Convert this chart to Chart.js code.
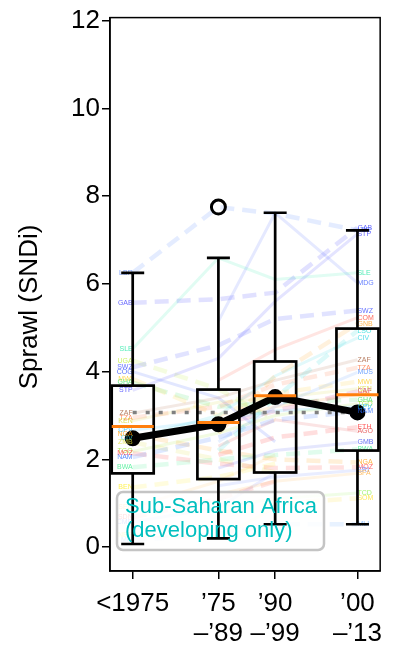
<!DOCTYPE html>
<html><head><meta charset="utf-8">
<script src="https://cdn.jsdelivr.net/npm/chart.js@4"></script>
<style>html,body{margin:0;padding:0;background:#fff}</style>
</head><body>
<canvas id="c" width="393" height="650"></canvas>
<script>
// ---------- data ----------
const periodLabels = [["<1975"], ["\u201975", "\u2013\u201989"], ["\u201990", "\u2013\u201999"], ["\u201900", "\u2013\u201913"]];
const periodPos = [0.4, 1.91, 2.91, 4.36];
const yTicks = [0, 2, 4, 6, 8, 10, 12];
const yTitle = "Sprawl (SNDi)";
const legendLines = ["Sub-Saharan Africa", "(developing only)"];

const boxQ1 = [1.68, 1.55, 1.70, 2.20];
const boxMedian = [2.75, 2.84, 3.45, 3.47];
const boxQ3 = [3.68, 3.59, 4.23, 4.98];
const whiskerLow = [0.07, 0.20, 0.52, 0.52];
const whiskerHigh = [6.25, 6.59, 7.62, 7.22];
const outlierPeriod = [1];
const outlierValue = [7.75];
const periodMeans = [2.48, 2.80, 3.42, 3.07];
const overallMean = 3.07;

const countryCodes = ["LBR","GAB","STP","SLE","MDG","SWZ","COM","GNB","LSO","CIV",
  "ZAF","TZA","MUS","MWI","KEN","CAF","GIN","GHA","TGO","CPV",
  "NAM","ETH","AGO","GMB","BWA","NGA","MOZ","ERI","BFA","TCD",
  "SOM","MLI","UGA","COG","ZMB","BEN","SEN","SDN","CMR","NER"];
const countryValues = [
  [6.25, 7.75, 7.60, 7.22], [5.57, 5.65, 5.80, 7.28], [3.57, 4.30, 5.60, 7.14], [4.52, 6.59, 6.10, 6.25],
  [null, 5.15, 7.62, 6.02], [4.10, 4.60, 5.20, 5.39], [null, 3.80, 4.50, 5.23], [null, 2.60, 3.90, 5.09],
  [null, 2.20, 3.40, 4.93], [2.48, 3.00, 3.90, 4.77], [3.05, 3.40, 3.80, 4.27], [2.95, 3.20, 3.70, 4.09],
  [null, 2.40, 3.20, 3.98], [3.83, 3.00, 3.50, 3.77], [2.88, 3.30, 3.40, 3.61], [null, 2.80, 3.10, 3.55],
  [null, 2.90, 3.20, 3.48], [3.75, 3.20, 3.30, 3.36], [2.18, 2.60, 3.00, 3.27], [2.66, 2.90, 3.10, 3.20],
  [2.05, 2.50, 2.90, 3.09], [null, 2.10, 2.50, 2.73], [null, 2.30, 2.90, 2.64], [null, 1.80, 2.20, 2.39],
  [1.82, 2.00, 2.10, 2.23], [2.57, 2.20, 2.00, 1.93], [2.14, 1.90, 1.80, 1.82], [null, 1.40, 1.60, 1.75],
  [null, 1.20, 1.50, 1.68], [null, 0.90, 1.10, 1.23], [null, 0.80, 1.00, 1.11], [0.16, 0.30, 0.52, 0.52],
  [4.25, 3.60, 2.90, null], [4.00, 3.40, 2.40, null], [2.39, 2.00, 1.70, null], [1.36, 1.60, 1.90, null],
  [0.91, 1.50, 2.10, null], [0.68, 1.10, 1.50, null], [0.57, 0.90, 1.70, null], [0.27, 0.20, 0.90, null]
];
const countryDashed = [1,1,0,0,0,1,0,1,1,0, 0,1,0,1,0,1,0,1,0,0, 1,1,0,0,1,1,1,0,0,0, 1,1,1,0,1,1,0,1,0,0];
const countryColors = ["#4d7fff","#3333ff","#2b2bff","#19e6a0","#3355ff","#3344ff","#ff3322","#ff9f1a","#1ad9d9","#20d0e0",
  "#a0522d","#ff6a33","#4488ff","#ffcc22","#d4d422","#cc2277","#ff8a1a","#33dd55","#99dd22","#11bbff",
  "#2266ff","#ff2222","#e03030","#3344ee","#33ee88","#ff9900","#ff3333","#5577ff","#ffaa33","#88ee44",
  "#ffdd22","#66aaff","#bbee33","#2244ff","#dddd33","#ffee22","#ffbb44","#ff4444","#6677ff","#eeee44"];

// ---------- helpers ----------
function pts(vals) {
  const out = [];
  vals.forEach((v, i) => { if (v !== null) out.push({ x: periodPos[i], y: v }); });
  return out;
}
function rgba(hex, a) {
  const n = parseInt(hex.slice(1), 16);
  return `rgba(${(n >> 16) & 255},${(n >> 8) & 255},${n & 255},${a})`;
}
const FONT = "'Liberation Sans', Arial, sans-serif";

const datasets = [];
datasets.push({ // outlier
  data: outlierPeriod.map((p, i) => ({ x: periodPos[p], y: outlierValue[i] })),
  showLine: false, pointRadius: 7, pointBorderWidth: 3, pointBorderColor: "#000",
  pointBackgroundColor: "rgba(0,0,0,0)"
});
datasets.push({ // period means
  data: pts(periodMeans), borderColor: "#000", borderWidth: 7, pointRadius: 4.5,
  pointBackgroundColor: "#000", pointBorderColor: "#000", borderJoinStyle: "round", tension: 0
});
datasets.push({ // overall mean
  data: [{ x: periodPos[0], y: overallMean }, { x: periodPos[3], y: overallMean }],
  borderColor: "#808080", borderWidth: 3.5, borderDash: [4, 9], pointRadius: 0
});
countryCodes.forEach((code, k) => {
  const dashed = countryDashed[k] === 1;
  datasets.push({
    data: pts(countryValues[k]),
    borderColor: rgba(countryColors[k], dashed ? 0.15 : 0.13),
    borderWidth: dashed ? 4.5 : 3,
    borderDash: dashed ? [14, 8] : [],
    pointRadius: 0, tension: 0
  });
});

const overlay = {
  id: "overlay",
  afterDatasetsDraw(chart) {
    const { ctx, scales: { x, y }, chartArea: ca } = chart;
    ctx.save();
    // country labels
    ctx.font = "7px " + FONT;
    ctx.textBaseline = "middle";
    countryCodes.forEach((code, k) => {
      const v = countryValues[k];
      ctx.fillStyle = rgba(countryColors[k], 0.75);
      if (v[0] !== null) {
        ctx.textAlign = "right";
        ctx.fillText(code, x.getPixelForValue(periodPos[0]), y.getPixelForValue(v[0]));
      }
      if (v[3] !== null) {
        ctx.textAlign = "left";
        ctx.fillText(code, x.getPixelForValue(periodPos[3]), y.getPixelForValue(v[3]));
      }
    });
    // legend frame
    const lx = ca.left + 7, ly = ca.bottom - 79, lw = 207, lh = 58;
    ctx.beginPath();
    ctx.roundRect(lx, ly, lw, lh, 6);
    ctx.fillStyle = "rgba(255,255,255,0.8)";
    ctx.fill();
    ctx.lineWidth = 2.5;
    ctx.strokeStyle = "#c4c4c4";
    ctx.stroke();
    // boxes
    const hw = 21, cw = 11.5;
    ctx.lineCap = "butt";
    for (let i = 0; i < periodPos.length; i++) {
      const cx = x.getPixelForValue(periodPos[i]);
      const q1 = y.getPixelForValue(boxQ1[i]), q3 = y.getPixelForValue(boxQ3[i]);
      const lo = y.getPixelForValue(whiskerLow[i]), hi = y.getPixelForValue(whiskerHigh[i]);
      const md = y.getPixelForValue(boxMedian[i]);
      ctx.strokeStyle = "#000";
      ctx.lineWidth = 2.7;
      ctx.strokeRect(cx - hw, q3, 2 * hw, q1 - q3);
      ctx.beginPath();
      ctx.moveTo(cx, q3); ctx.lineTo(cx, hi);
      ctx.moveTo(cx, q1); ctx.lineTo(cx, lo);
      ctx.moveTo(cx - cw, hi); ctx.lineTo(cx + cw, hi);
      ctx.moveTo(cx - cw, lo); ctx.lineTo(cx + cw, lo);
      ctx.stroke();
      ctx.beginPath();
      ctx.strokeStyle = "#ff7f0e";
      ctx.lineWidth = 3;
      ctx.moveTo(cx - hw, md); ctx.lineTo(cx + hw, md);
      ctx.stroke();
    }
    // legend text
    ctx.fillStyle = "#00bfbf";
    ctx.font = "22px " + FONT;
    ctx.textAlign = "left";
    ctx.textBaseline = "alphabetic";
    ctx.fillText(legendLines[0], lx + 8, ly + 21);
    ctx.fillText(legendLines[1], lx + 8, ly + 45);
    // frame
    ctx.strokeStyle = "#000";
    ctx.lineWidth = 1.5;
    ctx.strokeRect(ca.left, ca.top, ca.right - ca.left, ca.bottom - ca.top);
    // y title
    ctx.save();
    ctx.translate(30, 307);
    ctx.rotate(-Math.PI / 2);
    ctx.fillStyle = "#000";
    ctx.font = "26px " + FONT;
    ctx.textAlign = "center";
    ctx.textBaseline = "middle";
    ctx.fillText(yTitle, 0, 0);
    ctx.restore();
    ctx.restore();
  }
};

new Chart(document.getElementById("c"), {
  type: "line",
  data: { datasets },
  plugins: [overlay],
  options: {
    responsive: false, animation: false, events: [],
    layout: { padding: { top: 16, right: 7, left: 0, bottom: 0 } },
    plugins: { legend: { display: false }, tooltip: { enabled: false } },
    scales: {
      x: {
        type: "linear", min: 0, max: 4.76,
        afterBuildTicks: s => { s.ticks = periodPos.map(v => ({ value: v })); },
        afterFit: s => { s.height = 79; },
        ticks: {
          callback: (v, i) => periodLabels[i], autoSkip: false, maxRotation: 0,
          color: "#000", padding: 10, font: { family: FONT, size: 26, lineHeight: 1.15 }
        },
        grid: { drawOnChartArea: false, tickLength: 8, color: "#000", lineWidth: 1.5 },
        border: { color: "#000", width: 1.5 }
      },
      y: {
        type: "linear", min: -0.545, max: 12.068,
        afterBuildTicks: s => { s.ticks = yTicks.map(v => ({ value: v })); },
        afterFit: s => { s.width = 110; },
        ticks: { color: "#000", padding: 2, font: { family: FONT, size: 26 } },
        grid: { drawOnChartArea: false, tickLength: 8, color: "#000", lineWidth: 1.5 },
        border: { color: "#000", width: 1.5 }
      }
    }
  }
});
</script>
</body></html>
